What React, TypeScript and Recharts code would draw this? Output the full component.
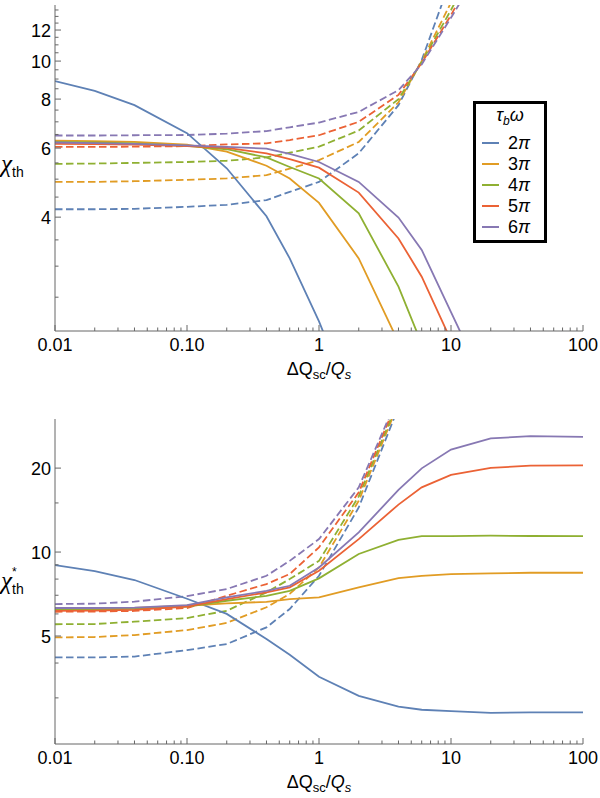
import React from 'react';
import { LineChart, Line, XAxis, YAxis, Legend } from 'recharts';

// ΔQsc/Qs sample points
const DQ = [0.01, 0.02, 0.04, 0.1, 0.2, 0.4, 0.6, 1, 2, 4, 6, 10, 20, 40, 100];
const TAU = ['2', '3', '4', '5', '6'];
const COLORS = ['#5E81B5', '#E19C24', '#8FB032', '#EB6235', '#8778B3'];

// top panel, solid
const topSolid2 = [8.89, 8.4, 7.72, 6.55, 5.33, 4.02, 3.14, 2.17, 1.21, null, null, null, null, null, null];
const topSolid3 = [6.27, 6.25, 6.22, 6.12, 5.88, 5.41, 5.02, 4.35, 3.14, 1.92, null, null, null, null, null];
const topSolid4 = [6.22, 6.2, 6.17, 6.08, 5.96, 5.68, 5.37, 5.02, 4.09, 2.66, 1.9, null, null, null, null];
const topSolid5 = [6.15, 6.14, 6.12, 6.07, 6.01, 5.82, 5.62, 5.35, 4.62, 3.53, 2.82, 1.94, null, null, null];
const topSolid6 = [6.2, 6.18, 6.15, 6.1, 6.04, 5.98, 5.8, 5.53, 4.92, 3.99, 3.3, 2.29, 1.4, null, null];

// top panel, dashed
const topDash2 = [4.19, 4.19, 4.2, 4.25, 4.3, 4.42, 4.64, 4.92, 5.82, 7.72, 10.06, 16.2, null, null, null];
const topDash3 = [4.92, 4.92, 4.94, 4.98, 5.02, 5.12, 5.32, 5.59, 6.22, 7.85, 10.0, 14.1, null, null, null];
const topDash4 = [5.47, 5.48, 5.5, 5.53, 5.57, 5.68, 5.84, 6.05, 6.65, 8.0, 9.95, 13.5, 21, null, null];
const topDash5 = [6.04, 6.04, 6.05, 6.07, 6.13, 6.17, 6.29, 6.47, 7.0, 8.2, 9.89, 13.1, 20, null, null];
const topDash6 = [6.46, 6.46, 6.47, 6.48, 6.53, 6.63, 6.78, 6.97, 7.42, 8.43, 9.81, 12.9, 19, null, null];

// bottom panel, solid
const botSolid2 = [8.98, 8.55, 7.94, 6.8, 6.0, 4.88, 4.28, 3.57, 3.05, 2.79, 2.72, 2.69, 2.65, 2.66, 2.66];
const botSolid3 = [6.27, 6.28, 6.3, 6.42, 6.55, 6.63, 6.78, 6.88, 7.47, 8.07, 8.22, 8.34, 8.39, 8.43, 8.43];
const botSolid4 = [6.22, 6.23, 6.26, 6.38, 6.69, 6.97, 7.26, 8.05, 9.84, 11.05, 11.4, 11.4, 11.45, 11.42, 11.4];
const botSolid5 = [6.15, 6.17, 6.2, 6.38, 6.78, 7.17, 7.47, 8.57, 11.13, 14.8, 17.06, 18.9, 20.05, 20.4, 20.45];
const botSolid6 = [6.3, 6.3, 6.32, 6.45, 6.88, 7.26, 7.57, 8.81, 11.77, 16.7, 19.96, 23.3, 25.56, 26.05, 25.9];

// bottom panel, dashed
const botDash2 = [4.19, 4.19, 4.22, 4.45, 4.68, 5.37, 6.25, 8.22, 14.45, 33.1, null, null, null, null, null];
const botDash3 = [4.94, 4.96, 5.04, 5.25, 5.57, 6.34, 7.08, 8.81, 15.27, 34.2, null, null, null, null, null];
const botDash4 = [5.51, 5.52, 5.63, 5.8, 6.16, 7.17, 8.0, 9.3, 15.84, 34.9, null, null, null, null, null];
const botDash5 = [6.11, 6.12, 6.15, 6.3, 6.97, 7.68, 8.34, 10.4, 16.37, 35.8, null, null, null, null, null];
const botDash6 = [6.51, 6.53, 6.64, 6.95, 7.37, 8.22, 9.3, 11.13, 17.06, 36.4, null, null, null, null, null];

const X_MAJOR = [0.01, 0.1, 1, 10, 100];
const X_MAJOR_LABELS = ['0.01', '0.10', '1', '10', '100'];
const X_MINOR = [
  0.02, 0.03, 0.04, 0.05, 0.06, 0.07, 0.08, 0.09,
  0.2, 0.3, 0.4, 0.5, 0.6, 0.7, 0.8, 0.9,
  2, 3, 4, 5, 6, 7, 8, 9,
  20, 30, 40, 50, 60, 70, 80, 90,
];
const TOP_Y_MAJOR = [4, 6, 8, 10, 12];
const TOP_Y_MINOR = [2.5, 3, 3.5, 4.5, 5, 5.5, 6.5, 7, 7.5, 8.5, 9, 9.5, 10.5, 11, 11.5, 12.5, 13, 13.5];
const BOT_Y_MAJOR = [5, 10, 20];
const BOT_Y_MINOR = [3, 4, 6, 7, 8, 9, 15];

const FRAME = '#666';
const FONT = "'Liberation Sans', Arial, Helvetica, sans-serif";
const GREEK = "'Liberation Serif', 'DejaVu Serif', serif";

const buildRows = (solid: (number | null)[][], dashed: (number | null)[][]) =>
  DQ.map((x, i) => {
    const row: any = { x };
    TAU.forEach((_, k) => {
      row['s' + k] = solid[k][i];
      row['d' + k] = dashed[k][i];
    });
    return row;
  });

const topRows = buildRows(
  [topSolid2, topSolid3, topSolid4, topSolid5, topSolid6],
  [topDash2, topDash3, topDash4, topDash5, topDash6]
);
const botRows = buildRows(
  [botSolid2, botSolid3, botSolid4, botSolid5, botSolid6],
  [botDash2, botDash3, botDash4, botDash5, botDash6]
);

const xTick = (side: 'bottom' | 'top') => (props: any) => {
  const { x, y, payload } = props;
  const i = X_MAJOR.indexOf(payload.value);
  const len = i >= 0 ? 6 : 3.5;
  const dir = side === 'bottom' ? -1 : 1;
  return (
    <g>
      <line x1={x} y1={y} x2={x} y2={y + dir * len} stroke={FRAME} strokeWidth={1} />
      {side === 'bottom' && i >= 0 && (
        <text x={x} y={y + 20} textAnchor="middle" fontSize={18} fontFamily={FONT} fill="#000">
          {X_MAJOR_LABELS[i]}
        </text>
      )}
    </g>
  );
};

const yTick = (side: 'left' | 'right', majors: number[]) => (props: any) => {
  const { x, y, payload } = props;
  const major = majors.includes(payload.value);
  const len = major ? 6 : 3.5;
  const dir = side === 'left' ? 1 : -1;
  return (
    <g>
      <line x1={x} y1={y} x2={x + dir * len} y2={y} stroke={FRAME} strokeWidth={1} />
      {side === 'left' && major && (
        <text x={x - 4} y={y + 6.5} textAnchor="end" fontSize={18} fontFamily={FONT} fill="#000">
          {String(payload.value)}
        </text>
      )}
    </g>
  );
};

const XTitle = (props: any) => {
  const vb = props.viewBox;
  return (
    <text x={vb.x + vb.width / 2} y={vb.y + 44} textAnchor="middle" fontSize={18} fontFamily={FONT} fill="#000">
      ΔQ
      <tspan fontSize={13} dy={4}>sc</tspan>
      <tspan dy={-4}>/</tspan>
      <tspan fontStyle="italic">Q</tspan>
      <tspan fontSize={13} dy={4} fontStyle="italic">s</tspan>
    </text>
  );
};

const YTitle = (props: any) => {
  const vb = props.viewBox;
  const cy = vb.y + vb.height / 2;
  if (props.star) {
    return (
      <g fill="#000">
        <text x={1} y={cy + 7} fontSize={25} fontFamily={GREEK} fontStyle="italic">χ</text>
        <text x={12} y={cy - 6} fontSize={12} fontFamily={FONT}>*</text>
        <text x={12} y={cy + 12} fontSize={14} fontFamily={FONT}>th</text>
      </g>
    );
  }
  return (
    <g fill="#000">
      <text x={1} y={cy + 4} fontSize={25} fontFamily={GREEK} fontStyle="italic">χ</text>
      <text x={12} y={cy + 9} fontSize={14} fontFamily={FONT}>th</text>
    </g>
  );
};

const LegendBox = () => (
  <div
    style={{
      position: 'relative',
      width: 74,
      height: 142,
      boxSizing: 'border-box',
      border: '3px solid #000',
      background: '#fff',
      fontFamily: FONT,
      fontSize: 18,
      color: '#000',
    }}
  >
    <div style={{ position: 'absolute', left: 0, right: 0, top: -1, textAlign: 'center', lineHeight: '24px' }}>
      <i>τ</i>
      <i style={{ fontSize: 12, position: 'relative', top: 4 }}>b</i>
      <i>ω</i>
    </div>
    {TAU.map((t, k) => (
      <div
        key={t}
        style={{ position: 'absolute', left: 6, top: 28.5 + k * 21, height: 21, display: 'flex', alignItems: 'center', whiteSpace: 'nowrap' }}
      >
        <span style={{ display: 'inline-block', width: 17, height: 2, background: COLORS[k] }} />
        <span style={{ marginLeft: 9 }}>
          {t}
          <i>π</i>
        </span>
      </div>
    ))}
  </div>
);

const xTicks = [...X_MAJOR, ...X_MINOR].sort((a, b) => a - b);

function Panel(props: {
  rows: any[];
  yDomain: [number, number];
  yMajor: number[];
  yMinor: number[];
  marginTop: number;
  marginBottom: number;
  xAxisHeight: number;
  star?: boolean;
  legend?: boolean;
}) {
  const { rows, yDomain, yMajor, yMinor, marginTop, marginBottom, xAxisHeight, star, legend } = props;
  const yTicks = [...yMajor, ...yMinor].sort((a, b) => a - b);
  return (
    <LineChart
      width={600}
      height={399}
      data={rows}
      margin={{ top: marginTop, right: 17, bottom: marginBottom, left: 10 }}
    >
      <XAxis
        xAxisId="b"
        dataKey="x"
        type="number"
        scale="log"
        domain={[0.01, 100]}
        allowDataOverflow
        ticks={xTicks}
        interval={0}
        tick={xTick('bottom')}
        tickSize={0}
        tickMargin={0}
        tickLine={false}
        axisLine={{ stroke: FRAME }}
        height={xAxisHeight}
        label={<XTitle />}
      />
      <XAxis
        xAxisId="t"
        orientation="top"
        dataKey="x"
        type="number"
        scale="log"
        domain={[0.01, 100]}
        allowDataOverflow
        ticks={xTicks}
        interval={0}
        tick={xTick('top')}
        tickSize={0}
        tickMargin={0}
        tickLine={false}
        axisLine={{ stroke: FRAME }}
        height={0}
      />
      <YAxis
        yAxisId="l"
        type="number"
        scale="log"
        domain={yDomain}
        allowDataOverflow
        ticks={yTicks}
        interval={0}
        tick={yTick('left', yMajor)}
        tickSize={0}
        tickMargin={0}
        tickLine={false}
        axisLine={{ stroke: FRAME }}
        width={45}
        label={<YTitle star={star} />}
      />
      <YAxis
        yAxisId="r"
        orientation="right"
        type="number"
        scale="log"
        domain={yDomain}
        allowDataOverflow
        ticks={yTicks}
        interval={0}
        tick={yTick('right', yMajor)}
        tickSize={0}
        tickMargin={0}
        tickLine={false}
        axisLine={{ stroke: FRAME }}
        width={0}
      />
      {TAU.map((t, k) => (
        <Line
          key={'d' + t}
          xAxisId="b"
          yAxisId="l"
          type="linear"
          dataKey={'d' + k}
          stroke={COLORS[k]}
          strokeWidth={1.8}
          strokeDasharray="7.5 3.5"
          dot={false}
          activeDot={false}
          isAnimationActive={false}
        />
      ))}
      {TAU.map((t, k) => (
        <Line
          key={'s' + t}
          xAxisId="b"
          yAxisId="l"
          type="linear"
          dataKey={'s' + k}
          stroke={COLORS[k]}
          strokeWidth={1.8}
          dot={false}
          activeDot={false}
          isAnimationActive={false}
        />
      ))}
      {legend && (
        <Legend
          layout="vertical"
          align="center"
          verticalAlign="middle"
          wrapperStyle={{ left: 473, top: 101, width: 74, height: 142 }}
          content={() => <LegendBox />}
        />
      )}
    </LineChart>
  );
}

export default function App() {
  return (
    <div style={{ position: 'absolute', left: 0, top: 0, width: 600, height: 798, background: '#fff' }}>
      <div style={{ position: 'absolute', left: 0, top: 0 }}>
        <Panel
          rows={topRows}
          yDomain={[2.05, 13.9]}
          yMajor={TOP_Y_MAJOR}
          yMinor={TOP_Y_MINOR}
          marginTop={5}
          marginBottom={8}
          xAxisHeight={60}
          legend
        />
      </div>
      <div style={{ position: 'absolute', left: 0, top: 399 }}>
        <Panel
          rows={botRows}
          yDomain={[2.05, 30]}
          yMajor={BOT_Y_MAJOR}
          yMinor={BOT_Y_MINOR}
          marginTop={20}
          marginBottom={4}
          xAxisHeight={50}
          star
        />
      </div>
    </div>
  );
}
